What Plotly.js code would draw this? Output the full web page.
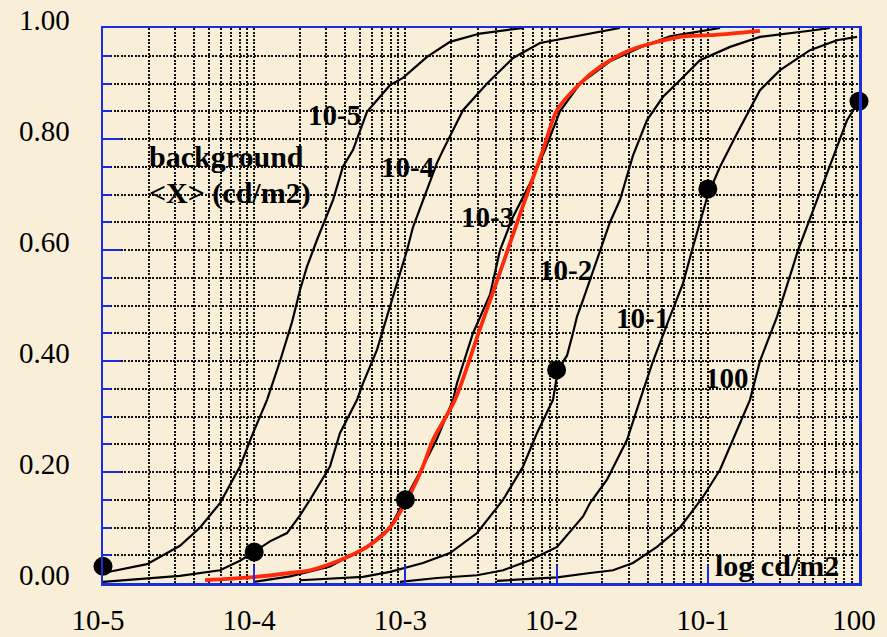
<!DOCTYPE html>
<html><head><meta charset="utf-8">
<script src="https://cdn.plot.ly/plotly-3.0.1.min.js"></script>
<style>html,body{margin:0;padding:0;background:#f9efd9;}#chart{width:887px;height:637px;}</style>
</head><body><div id="chart"></div>
<script>
// x values are log10(cd/m2); y values are cumulative fraction
const c5x = [-5.000,-4.709,-4.491,-4.358,-4.226,-4.094,-4.008,-3.915,-3.829,-3.750,-3.697,-3.651,-3.585,-3.479,-3.413,-3.347,-3.254,-3.102,-3.016,-2.857,-2.705,-2.507,-2.222];
const c5y = [0.018,0.034,0.067,0.10,0.144,0.21,0.27,0.33,0.40,0.47,0.528,0.57,0.618,0.69,0.75,0.78,0.849,0.897,0.91,0.948,0.975,0.99,1.0];
const c4x = [-5.000,-4.491,-4.226,-4.094,-4.001,-3.896,-3.783,-3.697,-3.631,-3.499,-3.433,-3.320,-3.280,-3.188,-3.122,-3.056,-2.989,-2.950,-2.857,-2.791,-2.751,-2.619,-2.460,-2.288,-2.110,-1.892,-1.581];
const c4y = [0.002,0.013,0.023,0.04,0.056,0.075,0.09,0.122,0.15,0.21,0.27,0.33,0.36,0.42,0.48,0.54,0.60,0.641,0.708,0.757,0.78,0.852,0.90,0.946,0.973,0.984,1.0];
const c3x = [-4.001,-3.763,-3.499,-3.254,-3.102,-3.003,-2.884,-2.791,-2.685,-2.659,-2.553,-2.440,-2.374,-2.288,-2.176,-2.077,-1.978,-1.845,-1.647,-1.448,-1.250,-0.919];
const c3y = [0.002,0.012,0.03,0.065,0.10,0.15,0.21,0.26,0.33,0.36,0.45,0.52,0.60,0.66,0.72,0.78,0.85,0.90,0.94,0.965,0.985,1.0];
const redx = [-4.325,-4.028,-3.763,-3.631,-3.433,-3.254,-3.102,-2.989,-2.884,-2.817,-2.672,-2.507,-2.374,-2.222,-2.090,-1.997,-1.845,-1.713,-1.515,-1.184,-0.985,-0.655];
const redy = [0.005,0.010,0.018,0.023,0.041,0.065,0.10,0.15,0.21,0.258,0.33,0.458,0.56,0.68,0.78,0.852,0.90,0.93,0.96,0.984,0.987,0.995];
const c2x = [-3.697,-3.280,-3.102,-2.884,-2.705,-2.526,-2.354,-2.222,-2.130,-2.024,-1.991,-1.931,-1.892,-1.865,-1.825,-1.779,-1.713,-1.647,-1.581,-1.495,-1.402,-1.296,-1.184,-1.052,-0.853,-0.655,-0.324,-0.192];
const c2y = [0.005,0.011,0.02,0.036,0.054,0.09,0.15,0.21,0.27,0.33,0.384,0.41,0.45,0.48,0.51,0.546,0.60,0.65,0.69,0.77,0.834,0.876,0.906,0.942,0.966,0.984,0.995,1.0];
const c1x = [-3.036,-2.791,-2.526,-2.354,-2.176,-1.997,-1.825,-1.779,-1.667,-1.534,-1.448,-1.362,-1.250,-1.164,-1.104,-1.052,-0.999,-0.919,-0.807,-0.655,-0.522,-0.324,-0.146,-0.013];
const c1y = [0.002,0.009,0.014,0.023,0.041,0.065,0.12,0.144,0.186,0.258,0.33,0.40,0.48,0.54,0.60,0.65,0.70,0.75,0.81,0.888,0.924,0.96,0.978,0.984];
const c0x = [-2.394,-1.997,-1.779,-1.627,-1.495,-1.336,-1.184,-1.032,-0.919,-0.833,-0.721,-0.655,-0.542,-0.437,-0.403,-0.278,-0.079,0.000];
const c0y = [0.004,0.01,0.018,0.023,0.036,0.065,0.10,0.155,0.204,0.258,0.33,0.40,0.48,0.57,0.60,0.69,0.834,0.868];
const dotx = [-5,-4,-3,-2,-1,0];
const doty = [0.03,0.056,0.15,0.384,0.71,0.868];
const tickExp = [-5,-4,-3,-2,-1,0];
const tickText = ['10-5','10-4','10-3','10-2','10-1','100'];
const curveLabels = ['10-5','10-4','10-3','10-2','10-1','100'];
const labelX = [-3.466,-2.989,-2.460,-1.944,-1.435,-0.873];
const labelY = [0.843,0.750,0.659,0.564,0.477,0.369];

const toLum = a => a.map(v => Math.pow(10, v));
const blackLine = (x, y) => ({x: toLum(x), y: y, type:'scatter', mode:'lines', line:{color:'#000', width:2.2}, hoverinfo:'skip', cliponaxis:false});
const traces = [
  blackLine(c5x,c5y), blackLine(c4x,c4y), blackLine(c3x,c3y),
  blackLine(c2x,c2y), blackLine(c1x,c1y), blackLine(c0x,c0y),
  {x: toLum(redx), y: redy, type:'scatter', mode:'lines', line:{color:'#ff2a0a', width:3.8, shape:'spline', smoothing:0.8}, cliponaxis:false},
  {x: toLum(dotx), y: doty, type:'scatter', mode:'markers', marker:{color:'#000', size:19}, cliponaxis:false}
];
const blue = '#1a2ee0';
const dash = '2px,1.5px';
const gridStyle = {showgrid:true, gridcolor:'#111', griddash:dash, gridwidth:2};
const serif = 'Liberation Serif, Times New Roman, serif';
const ann = curveLabels.map((t,i)=>({x:labelX[i], y:labelY[i], xref:'x', yref:'y', text:'<b>'+t+'</b>', showarrow:false, font:{family:serif, size:29, color:'#000'}}));
ann.push({x:-4.709, y:0.769, xref:'x', yref:'y', xanchor:'left', text:'<b>background</b>', showarrow:false, font:{family:serif, size:30, color:'#000'}});
ann.push({x:-4.709, y:0.703, xref:'x', yref:'y', xanchor:'left', text:'<b>&lt;X&gt; (cd/m2)</b>', showarrow:false, font:{family:serif, size:30, color:'#000'}});
ann.push({x:-0.966, y:0.032, xref:'x', yref:'y', xanchor:'left', text:'<b>log cd/m2</b>', showarrow:false, font:{family:serif, size:30, color:'#000'}});

const layout = {
  width:887, height:637,
  margin:{l:103, r:28, t:28, b:54},
  paper_bgcolor:'#f9efd9', plot_bgcolor:'#f9efd9',
  showlegend:false,
  font:{family:serif, color:'#000'},
  xaxis:{type:'log', range:[-5,0], tickmode:'array', tickvals:toLum(tickExp), ticktext:tickText,
    ticks:'inside', ticklen:18, tickwidth:2, tickcolor:blue,
    showline:true, linecolor:blue, linewidth:2.5, mirror:true,
    ...gridStyle, zeroline:false,
    minor:{dtick:'D1', ticks:'', showgrid:true, gridcolor:'#111', griddash:dash, gridwidth:2},
    tickfont:{family:serif, size:29, color:'#000'}, ticklabelstandoff:10, ticklabelshift:-5},
  yaxis:{range:[0,1], tickmode:'array', tickvals:[0,0.2,0.4,0.6,0.8,1.0], tickformat:'.2f',
    ticks:'inside', ticklen:18, tickwidth:2, tickcolor:blue,
    showline:true, linecolor:blue, linewidth:2.5, mirror:true,
    ...gridStyle, zeroline:false,
    minor:{dtick:0.05, ticks:'inside', ticklen:8, tickwidth:2, tickcolor:blue, showgrid:true, gridcolor:'#111', griddash:dash, gridwidth:2},
    tickfont:{family:serif, size:29, color:'#000'}, ticklabelstandoff:25, ticklabelshift:-8},
  annotations: ann
};
Plotly.newPlot('chart', traces, layout, {displayModeBar:false, staticPlot:true});
</script></body></html>
